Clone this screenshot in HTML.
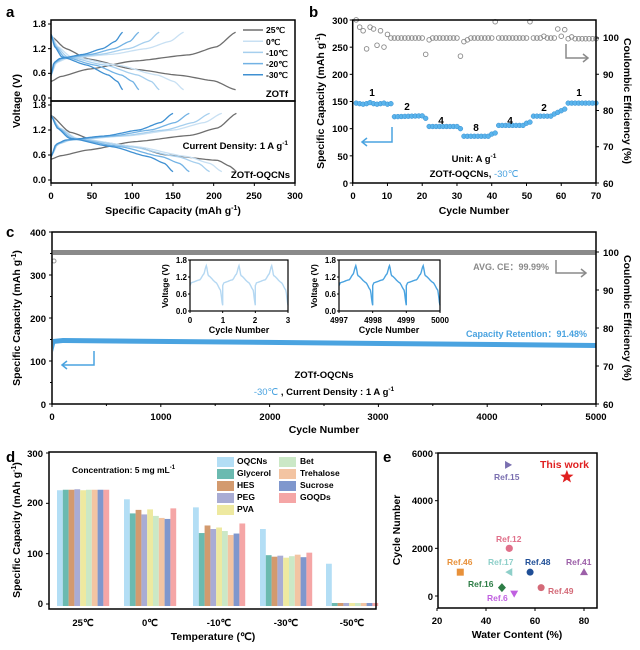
<!DOCTYPE html>
<html><head><meta charset="utf-8">
<style>
html,body{margin:0;padding:0;background:#fff;}
svg{display:block;font-family:"Liberation Sans",Arial,sans-serif;font-weight:bold;}
text{font-weight:bold;}
</style></head>
<body>
<svg id="s" width="640" height="650" viewBox="0 0 640 650" xmlns="http://www.w3.org/2000/svg">
<g id="g"></g>
<text x="6" y="17" font-size="15">a</text>
<text x="309" y="17" font-size="15">b</text>
<text x="6" y="237" font-size="15">c</text>
<text x="6" y="462" font-size="15">d</text>
<text x="383" y="462" font-size="15">e</text>

<!-- Panel a text -->
<g font-size="9.5" text-anchor="end">
<text x="46" y="27">1.8</text><text x="46" y="52">1.2</text><text x="46" y="76">0.6</text><text x="46" y="101">0.0</text>
<text x="46" y="108">1.8</text><text x="46" y="133">1.2</text><text x="46" y="158">0.6</text><text x="46" y="183">0.0</text>
</g>
<g font-size="9.5" text-anchor="middle">
<text x="51" y="199">0</text><text x="92" y="199">50</text><text x="132" y="199">100</text><text x="173" y="199">150</text><text x="214" y="199">200</text><text x="254" y="199">250</text><text x="295" y="199">300</text>
</g>
<text x="173" y="214" font-size="10.5" text-anchor="middle">Specific Capacity (mAh g<tspan dy="-4" font-size="7">-1</tspan><tspan dy="4">)</tspan></text>
<text transform="translate(20,101) rotate(-90)" font-size="10.5" text-anchor="middle">Voltage (V)</text>
<g font-size="8.5">
<text x="266" y="33">25℃</text><text x="266" y="45">0℃</text><text x="266" y="56">-10℃</text><text x="266" y="67">-20℃</text><text x="266" y="78">-30℃</text>
</g>
<text x="288" y="97" font-size="9.5" text-anchor="end">ZOTf</text>
<text x="288" y="149" font-size="9.5" text-anchor="end">Current Density: 1 A g<tspan dy="-4" font-size="6.5">-1</tspan></text>
<text x="290" y="178" font-size="9.5" text-anchor="end">ZOTf-OQCNs</text>

<!-- Panel b text -->
<g font-size="9.5" text-anchor="end">
<text x="348" y="24">300</text><text x="348" y="51">250</text><text x="348" y="78">200</text><text x="348" y="105">150</text><text x="348" y="132">100</text><text x="348" y="160">50</text><text x="348" y="187">0</text>
</g>
<g font-size="9.5">
<text x="603" y="41">100</text><text x="603" y="78">90</text><text x="603" y="114">80</text><text x="603" y="150">70</text><text x="603" y="187">60</text>
</g>
<g font-size="9.5" text-anchor="middle">
<text x="353" y="199">0</text><text x="387" y="199">10</text><text x="422" y="199">20</text><text x="457" y="199">30</text><text x="492" y="199">40</text><text x="527" y="199">50</text><text x="561" y="199">60</text><text x="596" y="199">70</text>
</g>
<text x="474" y="214" font-size="10.5" text-anchor="middle">Cycle Number</text>
<text transform="translate(324,101) rotate(-90)" font-size="10.5" text-anchor="middle">Specific Capacity (mAh g<tspan dy="-4" font-size="7">-1</tspan><tspan dy="4">)</tspan></text>
<text transform="translate(624,101) rotate(90)" font-size="10.5" text-anchor="middle">Coulombic Efficiency (%)</text>
<g font-size="10">
<text x="372" y="96" text-anchor="middle">1</text><text x="407" y="110" text-anchor="middle">2</text><text x="441" y="124" text-anchor="middle">4</text><text x="476" y="131" text-anchor="middle">8</text><text x="510" y="124" text-anchor="middle">4</text><text x="544" y="111" text-anchor="middle">2</text><text x="579" y="96" text-anchor="middle">1</text>
</g>
<text x="474" y="162" font-size="9.5" text-anchor="middle">Unit: A g<tspan dy="-4" font-size="6.5">-1</tspan></text>
<text x="474" y="177" font-size="9.5" text-anchor="middle">ZOTf-OQCNs, <tspan fill="#4aa3e0" font-weight="normal">-30℃</tspan></text>

<!-- Panel c text -->
<g font-size="9.5" text-anchor="end">
<text x="46" y="236">400</text><text x="46" y="279">300</text><text x="46" y="322">200</text><text x="46" y="365">100</text><text x="46" y="408">0</text>
</g>
<g font-size="9.5">
<text x="603" y="256">100</text><text x="603" y="294">90</text><text x="603" y="332">80</text><text x="603" y="370">70</text><text x="603" y="408">60</text>
</g>
<g font-size="9.5" text-anchor="middle">
<text x="52" y="420">0</text><text x="161" y="420">1000</text><text x="270" y="420">2000</text><text x="378" y="420">3000</text><text x="487" y="420">4000</text><text x="596" y="420">5000</text>
</g>
<text x="324" y="433" font-size="10.5" text-anchor="middle">Cycle Number</text>
<text transform="translate(20,318) rotate(-90)" font-size="10.5" text-anchor="middle">Specific Capacity (mAh g<tspan dy="-4" font-size="7">-1</tspan><tspan dy="4">)</tspan></text>
<text transform="translate(624,318) rotate(90)" font-size="10.5" text-anchor="middle">Coulombic Efficiency (%)</text>
<text x="549" y="270" font-size="9" fill="#8a8a8a" text-anchor="end">AVG. CE：99.99%</text>
<text x="587" y="337" font-size="9" fill="#4aa3e0" text-anchor="end">Capacity Retention：91.48%</text>
<text x="324" y="378" font-size="9.5" text-anchor="middle">ZOTf-OQCNs</text>
<text x="324" y="395" font-size="9.5" text-anchor="middle"><tspan fill="#4aa3e0" font-weight="normal">-30℃</tspan> , Current Density : 1 A g<tspan dy="-4" font-size="6.5">-1</tspan></text>
<g font-size="8" text-anchor="end">
<text x="187" y="263">1.8</text><text x="187" y="280">1.2</text><text x="187" y="297">0.6</text><text x="187" y="314">0.0</text>
<text x="336" y="263">1.8</text><text x="336" y="280">1.2</text><text x="336" y="297">0.6</text><text x="336" y="314">0.0</text>
</g>
<g font-size="8" text-anchor="middle">
<text x="190" y="323">0</text><text x="223" y="323">1</text><text x="255" y="323">2</text><text x="288" y="323">3</text>
<text x="339" y="323">4997</text><text x="373" y="323">4998</text><text x="406" y="323">4999</text><text x="440" y="323">5000</text>
</g>
<text x="239" y="333" font-size="9" text-anchor="middle">Cycle Number</text>
<text x="389" y="333" font-size="9" text-anchor="middle">Cycle Number</text>
<text transform="translate(168,286) rotate(-90)" font-size="8.5" text-anchor="middle">Voltage (V)</text>
<text transform="translate(317,286) rotate(-90)" font-size="8.5" text-anchor="middle">Voltage (V)</text>

<!-- Panel d text -->
<g font-size="9.5" text-anchor="end">
<text x="43" y="457">300</text><text x="43" y="506">200</text><text x="43" y="557">100</text><text x="43" y="607">0</text>
</g>
<g font-size="9.5" text-anchor="middle">
<text x="83" y="626">25℃</text><text x="150" y="626">0℃</text><text x="219" y="626">-10℃</text><text x="286" y="626">-30℃</text><text x="352" y="626">-50℃</text>
</g>
<text x="213" y="640" font-size="10.5" text-anchor="middle">Temperature (℃)</text>
<text transform="translate(20,530) rotate(-90)" font-size="10.5" text-anchor="middle">Specific Capacity (mAh g<tspan dy="-4" font-size="7">-1</tspan><tspan dy="4">)</tspan></text>
<text x="72" y="473" font-size="8.5">Concentration: 5 mg mL<tspan dy="-4" font-size="6">-1</tspan></text>
<g font-size="8.5">
<text x="237" y="464">OQCNs</text><text x="237" y="476">Glycerol</text><text x="237" y="488">HES</text><text x="237" y="500">PEG</text><text x="237" y="512">PVA</text>
<text x="300" y="464">Bet</text><text x="300" y="476">Trehalose</text><text x="300" y="488">Sucrose</text><text x="300" y="500">GOQDs</text>
</g>

<!-- Panel e text -->
<g font-size="9.5" text-anchor="end">
<text x="433" y="457">6000</text><text x="433" y="504">4000</text><text x="433" y="552">2000</text><text x="433" y="600">0</text>
</g>
<g font-size="9.5" text-anchor="middle">
<text x="437" y="624">20</text><text x="486" y="624">40</text><text x="535" y="624">60</text><text x="584" y="624">80</text>
</g>
<text x="517" y="638" font-size="10.5" text-anchor="middle">Water Content (%)</text>
<text transform="translate(400,530) rotate(-90)" font-size="10.5" text-anchor="middle">Cycle Number</text>
<text x="540" y="468" font-size="10.5" fill="#e02020">This work</text>
<g font-size="8.5">
<text x="494" y="480" fill="#7a6fb0">Ref.15</text>
<text x="496" y="542" fill="#e0708a">Ref.12</text>
<text x="447" y="565" fill="#e8913a">Ref.46</text>
<text x="488" y="565" fill="#8ecfc9">Ref.17</text>
<text x="525" y="565" fill="#1f4e96">Ref.48</text>
<text x="566" y="565" fill="#9c5fa8">Ref.41</text>
<text x="468" y="587" fill="#2d7d46">Ref.16</text>
<text x="548" y="594" fill="#d46a78">Ref.49</text>
<text x="487" y="601" fill="#c060e0">Ref.6</text>
</g>
</svg>
<script>
var g=document.getElementById('g');var NS='http://www.w3.org/2000/svg';
function el(t,a){var e=document.createElementNS(NS,t);for(var k in a)e.setAttribute(k,a[k]);g.appendChild(e);return e;}
function poly(pts,st,w,extra){var d='M'+pts.map(function(p){return p[0].toFixed(1)+','+p[1].toFixed(1)}).join('L');var o={d:d,fill:'none',stroke:st,'stroke-width':w||1};for(var k in extra)o[k]=extra[k];return el('path',o);}
function interp(cp,t){for(var i=1;i<cp.length;i++){if(t<=cp[i][0]){var a=cp[i-1],b=cp[i];var u=(t-a[0])/(b[0]-a[0]);u=u*u*(3-2*u)*0.5+u*0.5;return a[1]+(b[1]-a[1])*u;}}return cp[cp.length-1][1];}
function curve(cp,C,fx,fy){var p=[];for(var i=0;i<=60;i++){var t=i/60;p.push([fx(t*C),fy(interp(cp,t))]);}return p;}
function tk(x1,y1,x2,y2){el('line',{x1:x1,y1:y1,x2:x2,y2:y2,stroke:'#000','stroke-width':1});}
// Panel a
var ax=function(c){return 51+c*244/300};
var yT=function(v){return 98-v/1.8*74}, yB=function(v){return 180-v/1.8*75};
var cols=['#6e6e6e','#c8e0f3','#a6cfee','#72b2e4','#3f90d2'];
var bc=[[0,0.55],[0.04,0.86],[0.12,0.96],[0.45,1.06],[0.72,1.2],[0.9,1.38],[1,1.6]];
var bd=[[0,1.55],[0.05,1.25],[0.15,1.0],[0.5,0.8],[0.8,0.56],[0.93,0.4],[1,0.2]];
var gc=[[0,0.4],[0.05,0.52],[0.2,0.7],[0.45,0.9],[0.75,1.05],[0.9,1.25],[1,1.6]];
var gd=[[0,1.5],[0.08,1.2],[0.2,0.95],[0.45,0.7],[0.7,0.55],[0.88,0.42],[1,0.2]];
var gd2=[[0,1.55],[0.1,1.15],[0.25,0.92],[0.45,0.8],[0.62,0.6],[0.9,0.47],[0.97,0.32],[1,0.2]];
var gc2=[[0,0.5],[0.05,0.58],[0.2,0.72],[0.45,0.92],[0.75,1.07],[0.9,1.25],[1,1.6]];
var capT=[227,163,133,108,88], capB=[228,210,195,170,150];
for(var i=0;i<5;i++){
 poly(curve(i?bc:gc,capT[i],ax,yT),cols[i],1.3);poly(curve(i?bd:gd,capT[i],ax,yT),cols[i],1.3);
 poly(curve(i?bc:gc2,capB[i],ax,yB),cols[i],1.3);poly(curve(i?bd:gd2,capB[i],ax,yB),cols[i],1.3);
 el('line',{x1:243,x2:263,y1:30+i*11.2,y2:30+i*11.2,stroke:cols[i],'stroke-width':1.5});
}
el('rect',{x:51,y:20,width:244,height:81,fill:'none',stroke:'#000','stroke-width':1.5});
el('rect',{x:51,y:101,width:244,height:82,fill:'none',stroke:'#000','stroke-width':1.5});
[0,0.6,1.2,1.8].forEach(function(v){tk(51,yT(v),48,yT(v));tk(51,yB(v),48,yB(v));});
for(var c=0;c<=300;c+=50)tk(ax(c),183,ax(c),186);
// Panel b
var bx=function(c){return 352.7+c*243.3/70}, by=function(v){return 183-v*163/300}, be=function(p){return 183-(p-60)*3.625};
var ce=[105,103,102,97,103,102.5,98,102,97.5,101,100,100,100,100,100,100,100,100,100,100,95.5,99.5,100,100,100,100,100,100,100,100,95,99,99.5,100,100,100,100,100,100,100,104.5,100,100,100,100,100,100,100,100,100,104.5,100,100,100,100.5,100,100,100,102.5,100.5,102.3,99.8,100.3,99.8,99.8,99.8,99.8,99.8,99.8,99.8,99.8];
for(var c=1;c<=70;c++){el('circle',{cx:bx(c),cy:be(ce[c-1]),r:2.3,fill:'none',stroke:'#8a8a8a','stroke-width':0.9});}
for(var c=1;c<=70;c++){var v;
 if(c<=11)v=147+[0,-1,-2,-1,1,-1,-2,-1,0,-2,-1][c-1];
 else if(c<=21)v=c==21?119:122+(c-12)*0.2;
 else if(c<=31)v=c==31?100:104;
 else if(c<=41)v=c>=40?88+(c-39)*2:86;
 else if(c<=51)v=c>=50?108+(c-49)*2:106;
 else if(c<=61)v=c>=58?124+(c-57)*3:123;
 else v=147;
 el('circle',{cx:bx(c),cy:by(v),r:2.4,fill:'#5ab4ec',stroke:'#3a8fd0','stroke-width':0.5});}
el('rect',{x:352.7,y:20,width:243.3,height:163,fill:'none',stroke:'#000','stroke-width':1.5});
for(var v=0;v<=300;v+=50)tk(352.7,by(v),349.7,by(v));
for(var p=60;p<=100;p+=10)tk(596,be(p),599,be(p));
for(var c=0;c<=70;c+=10)tk(bx(c),183,bx(c),186);
poly([[392,127],[392,142],[362,142]],'#4aa3e0',1.5);poly([[367,138],[362,142],[367,146]],'#4aa3e0',1.5);
poly([[566,44],[566,58],[588,58]],'#8a8a8a',1.5);poly([[583,54],[588,58],[583,62]],'#8a8a8a',1.5);
// Panel c
var cx=function(c){return 52+c*0.1088}, cy=function(v){return 404-v*0.43};
el('rect',{x:53,y:250,width:543,height:5,fill:'#8a8a8a'});
el('circle',{cx:54,cy:261,r:2,fill:'none',stroke:'#999'});
el('path',{d:'M53,339 L'+cx(100)+',338 L596,343 L596,348 L'+cx(100)+',343 L53,344 Z',fill:'#4aa3e0'});
el('path',{d:'M53,344 L53,352 L56,340 Z',fill:'#4aa3e0'});
el('rect',{x:52,y:232,width:544,height:172,fill:'none',stroke:'#000','stroke-width':1.5});
for(var v=0;v<=400;v+=100)tk(52,cy(v),49,cy(v));
for(var v=50;v<=350;v+=100)tk(52,cy(v),50,cy(v));
for(var p=60;p<=100;p+=10)tk(596,404-(p-60)*3.8,599,404-(p-60)*3.8);
for(var c=0;c<=5000;c+=1000)tk(cx(c),404,cx(c),407);
for(var c=500;c<=5000;c+=1000)tk(cx(c),404,cx(c),406);
poly([[94,351],[94,365],[62,365]],'#4aa3e0',1.5);poly([[67,361],[62,365],[67,369]],'#4aa3e0',1.5);
poly([[556,260],[556,273],[586,273]],'#8a8a8a',1.5);poly([[581,269],[586,273],[581,277]],'#8a8a8a',1.5);
function inset(x0,x1,col){var iy=function(v){return 311-v/1.8*51};var w=(x1-x0)/3;var p=[];
 for(var k=0;k<3;k++){var s=x0+k*w;var ch=[[0,0.9],[0.04,1.0],[0.3,1.1],[0.42,1.3],[0.5,1.6]];var dc=[[0.5,1.6],[0.56,1.25],[0.8,1.0],[0.93,0.75],[1,0.2]];
  for(var i=0;i<=30;i++){var t=i/30*0.5;p.push([s+t*w,iy(interp(ch,t))]);}
  for(var i=0;i<=30;i++){var t=0.5+i/30*0.5;p.push([s+t*w,iy(interp(dc,t))]);}}
 el('rect',{x:x0,y:260,width:x1-x0,height:51,fill:'#fff'});
 poly(p,col,1.4);
 el('rect',{x:x0,y:260,width:x1-x0,height:51,fill:'none',stroke:'#000','stroke-width':1.2});
 [0,0.6,1.2,1.8].forEach(function(v){tk(x0,iy(v),x0-2,iy(v));});for(var k=0;k<=3;k++)tk(x0+k*w,311,x0+k*w,313);}
inset(190,288,'#b5d8f2');inset(339,440,'#4aa3e0');
// Panel d
var dy=function(v){return 604-v*151/300};
var dcol=['#b3def5','#6bbab0','#d39a6e','#a9acd4','#eee9a0','#cbe8c6','#f3c4a2','#7f97cd','#f5a6a6'];
var dd=[[226,227,227,228,226,227,227,227,227],[208,180,187,178,188,175,171,169,190],[192,141,156,149,152,145,137,140,160],[149,97,94,96,92,95,98,93,102],[80,2,2,2,2,2,2,2,2]];
var cen=[83,150,219,286,352];
for(var gi=0;gi<5;gi++)for(var k=0;k<9;k++){var x=cen[gi]-26+k*5.8;el('rect',{x:x,y:dy(dd[gi][k]),width:5.8,height:604-dy(dd[gi][k])+2,fill:dcol[k]});}
el('rect',{x:49,y:452,width:327,height:157,fill:'none',stroke:'#000','stroke-width':1.5});
for(var v=0;v<=300;v+=100)tk(49,dy(v),46,dy(v));
for(var k=0;k<5;k++)el('rect',{x:217,y:457+k*12,width:17,height:10,fill:dcol[k]});
for(var k=0;k<4;k++)el('rect',{x:279,y:457+k*12,width:17,height:10,fill:dcol[k+5]});
// Panel e
var ex=function(w){return 437+(w-20)*2.45}, ey=function(n){return 596-n*0.02383};
el('rect',{x:438,y:453,width:159,height:155,fill:'none',stroke:'#000','stroke-width':1.5});
for(var n=0;n<=6000;n+=2000)tk(438,ey(n),435,ey(n));
for(var w=20;w<=80;w+=20)tk(ex(w),608,ex(w),611);
function star(x,y,r,c){var p=[];for(var i=0;i<10;i++){var a=-Math.PI/2+i*Math.PI/5;var rr=i%2?r*0.42:r;p.push((x+rr*Math.cos(a)).toFixed(1)+','+(y+rr*Math.sin(a)).toFixed(1));}el('polygon',{points:p.join(' '),fill:c});}
star(ex(73),ey(5000),7,'#e02020');
function pg(pts,c){el('polygon',{points:pts.map(function(q){return q.join(',')}).join(' '),fill:c});}
var x,y;
x=ex(49);y=ey(5500);pg([[x-3,y-4],[x+4,y],[x-3,y+4]],'#7a6fb0');
x=ex(49.5);y=ey(2000);el('circle',{cx:x,cy:y,r:3.6,fill:'#e0708a'});
x=ex(29.5);y=ey(1000);el('rect',{x:x-3.5,y:y-3.5,width:7,height:7,fill:'#e8913a'});
x=ex(49.5);y=ey(1000);pg([[x+3,y-4],[x-4,y],[x+3,y+4]],'#8ecfc9');
x=ex(58);y=ey(1000);el('circle',{cx:x,cy:y,r:3.5,fill:'#1f4e96'});
x=ex(80);y=ey(1000);pg([[x-4,y+3],[x,y-4],[x+4,y+3]],'#9c5fa8');
x=ex(46.5);y=ey(350);pg([[x,y-4.5],[x+4,y],[x,y+4.5],[x-4,y]],'#2d7d46');
x=ex(62.5);y=ey(350);el('circle',{cx:x,cy:y,r:3.5,fill:'#d46a78'});
x=ex(51.5);y=ey(100);pg([[x-4,y-3],[x+4,y-3],[x,y+4]],'#c060e0');
</script>
</body></html>
